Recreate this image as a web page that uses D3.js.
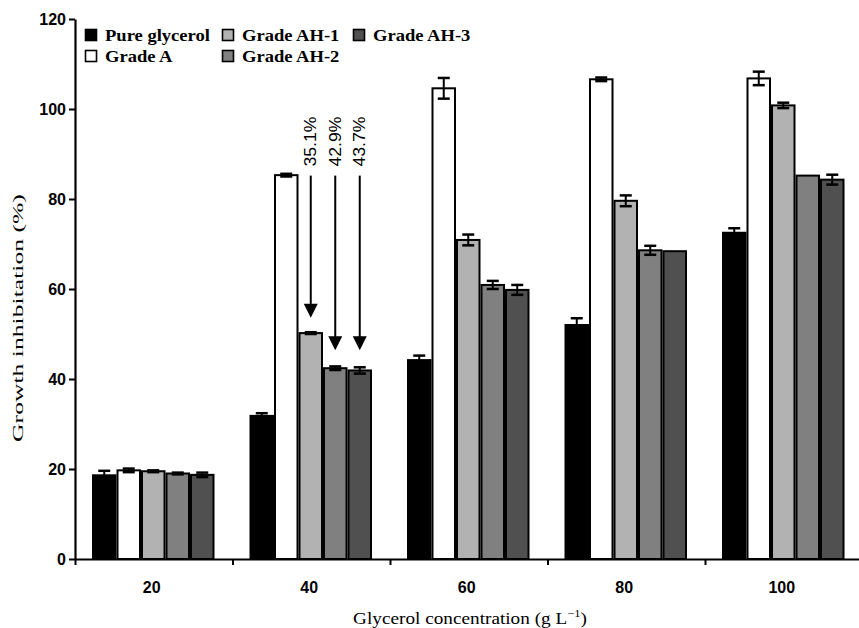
<!DOCTYPE html>
<html>
<head>
<meta charset="utf-8">
<script src="https://cdn.jsdelivr.net/npm/d3@7"></script>
<style>
  html, body { margin: 0; padding: 0; background: #fff; }
  svg { display: block; }
</style>
</head>
<body>
<svg id="chart" width="859" height="628"></svg>
<script>
// ---- data ----
const categories = ["20", "40", "60", "80", "100"];
const seriesNames = ["Pure glycerol", "Grade A", "Grade AH-1", "Grade AH-2", "Grade AH-3"];
const pureGlycerol    = [18.6, 31.8, 44.2, 52.0, 72.5];
const pureGlycerolErr = [1.0, 0.6, 1.0, 1.5, 1.0];
const gradeA          = [19.7, 85.3, 104.6, 106.6, 106.8];
const gradeAErr       = [0.4, 0.3, 2.3, 0.4, 1.5];
const gradeAH1        = [19.5, 50.2, 70.9, 79.6, 100.8];
const gradeAH1Err     = [0.2, 0.2, 1.2, 1.2, 0.6];
const gradeAH2        = [19.0, 42.4, 60.9, 68.6, 85.2];
const gradeAH2Err     = [0.2, 0.4, 0.9, 1.0, 0.0];
const gradeAH3        = [18.7, 41.9, 59.8, 68.4, 84.3];
const gradeAH3Err     = [0.5, 0.7, 1.1, 0.0, 1.1];
const yTicks = [0, 20, 40, 60, 80, 100, 120];
// annotations (group "40")
const annotCategory = "40";
const annotSeries = ["Grade AH-1", "Grade AH-2", "Grade AH-3"];
const annotLabels = ["35.1%", "42.9%", "43.7%"];
const annotStart = 85.2;
const annotEnd = [53.6, 46.4, 46.4];

const values = [pureGlycerol, gradeA, gradeAH1, gradeAH2, gradeAH3];
const errors = [pureGlycerolErr, gradeAErr, gradeAH1Err, gradeAH2Err, gradeAH3Err];
const colors = ["#000000", "#ffffff", "#b2b2b2", "#808080", "#505050"];

// ---- layout ----
const svg = d3.select("#chart");
const mLeft = 75, mBottom = 559, mTop = 19, step = 157.5;
const SERIF = "'Liberation Serif', 'Times New Roman', serif";
const SANS = "'Liberation Sans', Arial, sans-serif";

const y = d3.scaleLinear().domain([0, 120]).range([mBottom, mTop]);
const x0 = d3.scaleBand().domain(categories).range([mLeft, mLeft + step * categories.length]).padding(0);
const x1 = d3.scaleBand().domain(seriesNames).range([17, 139.5]).padding(0);
const xb = d3.scaleLinear().domain([0, categories.length]).range([mLeft, mLeft + step * categories.length]);

const rows = [];
categories.forEach((c, i) => seriesNames.forEach((s, j) => {
  rows.push({cat: c, ser: s, v: values[j][i], e: errors[j][i], color: colors[j]});
}));

// bars
const g = svg.append("g");
g.selectAll("rect.bar").data(rows).enter().append("rect")
  .attr("class", "bar")
  .attr("x", d => x0(d.cat) + x1(d.ser) + 1)
  .attr("y", d => y(d.v))
  .attr("width", x1.bandwidth() - 2)
  .attr("height", d => y(0) - y(d.v))
  .attr("fill", d => d.color)
  .attr("stroke", "#000")
  .attr("stroke-width", 2);

// error bars
const eb = g.selectAll("g.err").data(rows.filter(d => d.e > 0)).enter().append("g")
  .attr("transform", d => `translate(${x0(d.cat) + x1(d.ser) + x1.bandwidth() / 2},0)`);
eb.append("line").attr("x1", 0).attr("x2", 0)
  .attr("y1", d => y(d.v + d.e)).attr("y2", d => y(d.v - d.e))
  .attr("stroke", "#000").attr("stroke-width", 2);
eb.append("line").attr("x1", -6).attr("x2", 6)
  .attr("y1", d => y(d.v + d.e)).attr("y2", d => y(d.v + d.e))
  .attr("stroke", "#000").attr("stroke-width", 2.5);
eb.append("line").attr("x1", -6).attr("x2", 6)
  .attr("y1", d => y(d.v - d.e)).attr("y2", d => y(d.v - d.e))
  .attr("stroke", "#000").attr("stroke-width", 2.5);

// y axis
const yAxis = svg.append("g").attr("transform", `translate(${mLeft},0)`)
  .call(d3.axisLeft(y).tickValues(yTicks).tickSize(6).tickSizeOuter(0).tickPadding(3));
yAxis.select(".domain").attr("stroke-width", 2.2);
yAxis.selectAll(".tick line").attr("stroke-width", 2);
yAxis.selectAll("text").attr("font-family", SANS).attr("font-weight", "bold")
  .attr("font-size", 16).attr("fill", "#000");

// x axis (ticks at group boundaries)
const xAxis = svg.append("g").attr("transform", `translate(0,${mBottom})`)
  .call(d3.axisBottom(xb).tickValues(d3.range(categories.length + 1)).tickFormat("").tickSize(6).tickSizeOuter(0));
xAxis.select(".domain").attr("stroke-width", 2.2);
xAxis.selectAll(".tick line").attr("stroke-width", 2);

// category labels
svg.append("g").selectAll("text").data(categories).enter().append("text")
  .attr("x", d => x0(d) + x0.bandwidth() / 2 - 2)
  .attr("y", 593)
  .attr("text-anchor", "middle")
  .attr("font-family", SANS).attr("font-weight", "bold").attr("font-size", 16)
  .text(d => d);

// helper to stretch text to a given width
function stretch(sel, width) {
  const n = sel.node().getComputedTextLength();
  return width / n;
}

// x title
const xt = svg.append("g");
const xtText = xt.append("text").attr("text-anchor", "middle")
  .attr("font-family", SERIF).attr("font-size", 17);
xtText.append("tspan").text("Glycerol concentration (g L");
xtText.append("tspan").attr("font-size", 11).attr("dy", -7).text("\u22121");
xtText.append("tspan").attr("dy", 7).text(")");
const kx = stretch(xtText, 234);
xt.attr("transform", `translate(470,624) scale(${kx},1)`);

// y title
const yt = svg.append("g");
const ytText = yt.append("text").attr("text-anchor", "middle")
  .attr("font-family", SERIF).attr("font-size", 15).text("Growth inhibitation (%)");
const ky = stretch(ytText, 248);
yt.attr("transform", `translate(23,318) rotate(-90) scale(${ky},1)`);

// legend
const legendCols = [85, 222, 353];
const legendRows = [35, 56];
const legendPos = [[0, 0], [0, 1], [1, 0], [1, 1], [2, 0]];
seriesNames.forEach((s, i) => {
  const [c, r] = legendPos[i];
  const lg = svg.append("g").attr("transform", `translate(${legendCols[c]},${legendRows[r]})`);
  lg.append("rect").attr("x", 0.5).attr("y", -5.5).attr("width", 11).attr("height", 11)
    .attr("fill", colors[i]).attr("stroke", "#000").attr("stroke-width", 1.6);
  const tg = lg.append("g");
  tg.append("text").attr("font-family", SERIF).attr("font-weight", "bold")
    .attr("font-size", 16).attr("dy", "0.35em").text(s);
  tg.attr("transform", `translate(20,0) scale(1.16,1)`);
});

// annotations
annotSeries.forEach((s, i) => {
  const cx = x0(annotCategory) + x1(s) + x1.bandwidth() / 2;
  const tipY = y(annotEnd[i]);
  const startY = y(annotStart);
  svg.append("line").attr("x1", cx).attr("x2", cx)
    .attr("y1", startY).attr("y2", tipY - 10)
    .attr("stroke", "#000").attr("stroke-width", 2);
  svg.append("path")
    .attr("d", `M${cx - 7},${tipY - 14} L${cx + 7},${tipY - 14} L${cx},${tipY} Z`)
    .attr("fill", "#000");
  const ag = svg.append("g");
  const at = ag.append("text").attr("font-family", SANS).attr("font-size", 16)
    .attr("dy", "0.35em").text(annotLabels[i]);
  const ka = stretch(at, 50);
  ag.attr("transform", `translate(${cx},${startY - 9}) rotate(-90) scale(${ka},1)`);
});
</script>
</body>
</html>
